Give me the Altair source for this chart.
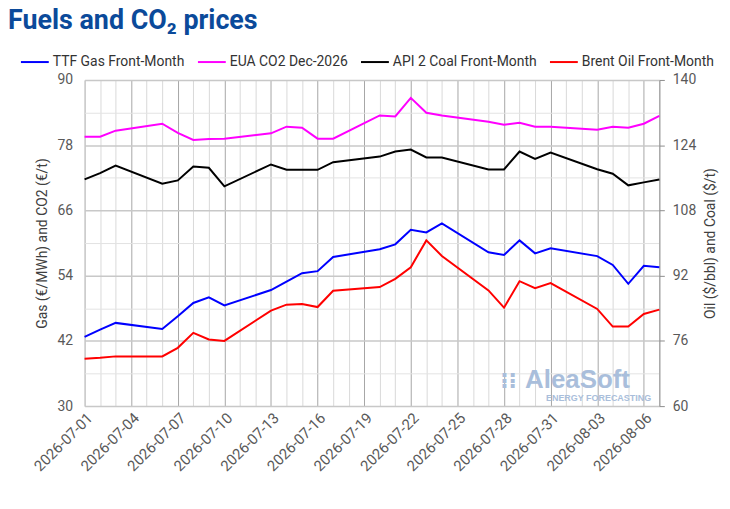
import altair as alt
import pandas as pd

# ---- data ----
dates = ["2026-07-01", "2026-07-02", "2026-07-03", "2026-07-06", "2026-07-07",
         "2026-07-08", "2026-07-09", "2026-07-10", "2026-07-13", "2026-07-14",
         "2026-07-15", "2026-07-16", "2026-07-17", "2026-07-20", "2026-07-21",
         "2026-07-22", "2026-07-23", "2026-07-24", "2026-07-27", "2026-07-28",
         "2026-07-29", "2026-07-30", "2026-07-31", "2026-08-03", "2026-08-04",
         "2026-08-05", "2026-08-06", "2026-08-07"]
gas = [42.75, 44.08, 45.31, 44.2, 46.52, 48.97, 50.0, 48.53, 51.35, 52.92,
       54.46, 54.83, 57.44, 58.85, 59.76, 62.44, 61.95, 63.6, 58.3, 57.8,
       60.49, 58.1, 59.03, 57.6, 55.97, 52.5, 55.8, 55.55]
eua = [79.57, 79.57, 80.67, 81.95, 80.25, 78.97, 79.15, 79.2, 80.18, 81.4,
       81.2, 79.2, 79.2, 83.47, 83.29, 86.71, 83.96, 83.47, 82.3, 81.77,
       82.13, 81.4, 81.4, 80.85, 81.4, 81.2, 81.95, 83.4]
coal = [115.6, 117.15, 119.0, 114.56, 115.37, 118.78, 118.46, 113.9, 119.27, 117.97,
        117.97, 117.97, 119.83, 121.2, 122.44, 122.93, 120.98, 120.98, 118.05, 118.05,
        122.44, 120.66, 122.2, 118.1, 117.0, 114.15, 114.88, 115.6]
brent = [71.63, 71.87, 72.2, 72.2, 74.3, 77.97, 76.34, 76.0, 83.41, 84.88,
         85.04, 84.3, 88.3, 89.2, 91.2, 94.07, 100.65, 96.83, 88.37, 84.15,
         90.65, 88.94, 90.16, 83.83, 79.51, 79.51, 82.6, 83.66]

names = ["TTF Gas Front-Month", "EUA CO2 Dec-2026", "API 2 Coal Front-Month", "Brent Oil Front-Month"]
colors = ["#0000ff", "#ff00ff", "#000000", "#ff0000"]
left_ticks = [30, 36, 42, 48, 54, 60, 66, 72, 78, 84, 90]
right_ticks = [60, 76, 92, 108, 124, 140]
title_text = "Fuels and CO₂ prices"

n = len(dates)
left_df = pd.DataFrame({"date": dates * 2, "value": gas + eua,
                        "series": [names[0]] * n + [names[1]] * n})
right_df = pd.DataFrame({"date": dates * 2, "value": coal + brent,
                         "series": [names[2]] * n + [names[3]] * n})

day_values = ([alt.DateTime(year=2026, month=7, date=d, utc=True) for d in range(1, 32)] +
              [alt.DateTime(year=2026, month=8, date=d, utc=True) for d in range(1, 8)])

FONT = "Roboto"
LABEL_COLOR = "#595959"
every3 = "round((datum.value - utc(2026,6,1)) / 864e5) % 3 == 0"

x_enc = alt.X(
    "date:T",
    scale=alt.Scale(type="utc",
                    domain=[alt.DateTime(year=2026, month=7, date=1, utc=True),
                            alt.DateTime(year=2026, month=8, date=7, utc=True)]),
    axis=alt.Axis(
        title=None, values=day_values, format="%Y-%m-%d",
        labelExpr=f"{every3} ? datum.label : ''",
        labelAngle=315, labelOverlap=False, labelFlush=False,
        labelFontSize=15, labelColor=LABEL_COLOR, labelFont=FONT, labelPadding=4,
        ticks=False, domain=False, grid=True,
        gridColor={"condition": {"test": every3, "value": "#a6a6a6"}, "value": "#d9d9d9"},
    ),
)

color_enc = alt.Color(
    "series:N",
    scale=alt.Scale(domain=names, range=colors),
    legend=alt.Legend(
        title=None, orient="none", direction="horizontal",
        legendX=-65, legendY=-33,
        symbolType="stroke", symbolSize=784, symbolStrokeWidth=2,
        labelFontSize=14, labelColor="#333333", labelFont=FONT,
        labelOffset=3, columnPadding=9,
    ),
)

left = alt.Chart(left_df).mark_line(strokeWidth=2).encode(
    x=x_enc,
    y=alt.Y("value:Q", scale=alt.Scale(domain=[30, 90], nice=False, zero=False),
            axis=alt.Axis(
                orient="left", title="Gas (€/MWh) and CO2 (€/t)",
                values=left_ticks,
                labelExpr="datum.value % 12 == 6 ? datum.label : ''",
                labelFontSize=14, labelColor=LABEL_COLOR, labelFont=FONT,
                labelPadding=12, ticks=False, domain=False,
                titleFontSize=14, titleFontWeight="normal", titleColor="#404040",
                titleFont=FONT, titlePadding=8,
                grid=True,
                gridColor={"condition": {"test": "datum.value % 12 == 0", "value": "#e3e3e3"},
                           "value": "#c8c8c8"},
                gridWidth={"condition": {"test": "datum.value % 12 == 0", "value": 1},
                           "value": 1.5},
            )),
    color=color_enc,
)

right = alt.Chart(right_df).mark_line(strokeWidth=2).encode(
    x=x_enc,
    y=alt.Y("value:Q", scale=alt.Scale(domain=[60, 140], nice=False, zero=False),
            axis=alt.Axis(
                orient="right", title="Oil ($/bbl) and Coal ($/t)",
                values=right_ticks, grid=False,
                labelFontSize=14, labelColor=LABEL_COLOR, labelFont=FONT,
                labelPadding=8, ticks=True, tickSize=5, tickColor="#8c8c8c",
                domain=True, domainColor="#8c8c8c",
                titleFontSize=14, titleFontWeight="normal", titleColor="#404040",
                titleFont=FONT, titleAngle=270, titlePadding=22,
            )),
    color=color_enc,
)

one = alt.Data(values=[{"k": 1}])
title_mark = alt.Chart(one).mark_text(
    text=title_text, font=FONT, fontSize=27, fontWeight="bold",
    color="#0b4a9a", align="left", baseline="alphabetic",
).encode(x=alt.value(-77), y=alt.value(-51))
wm1 = alt.Chart(one).mark_text(
    text="AleaSoft", font="Liberation Sans", fontSize=26, fontWeight="bold",
    color="#a9bedb", align="left", baseline="alphabetic",
).encode(x=alt.value(443), y=alt.value(310))
wm2 = alt.Chart(one).mark_text(
    text="ENERGY FORECASTING", font="Liberation Sans", fontSize=9, fontWeight="bold",
    color="#a9bedb", align="left", baseline="alphabetic",
).encode(x=alt.value(464), y=alt.value(323))
wm3 = alt.Chart(one).mark_text(
    text="⁝⁝", font="DejaVu Sans", fontSize=22, fontWeight="bold",
    color="#a9bedb", align="left", baseline="alphabetic",
).encode(x=alt.value(418), y=alt.value(310))

chart = alt.layer(title_mark, wm1, wm2, wm3, left, right).resolve_scale(y="independent").properties(
    width=578, height=328,
    autosize=alt.AutoSizeParams(type="none"),
    padding={"left": 77, "top": 71, "right": 63, "bottom": 84},
).configure_view(stroke=None)

chart.save("out.html", embed_options={"renderer": "svg", "actions": False})
